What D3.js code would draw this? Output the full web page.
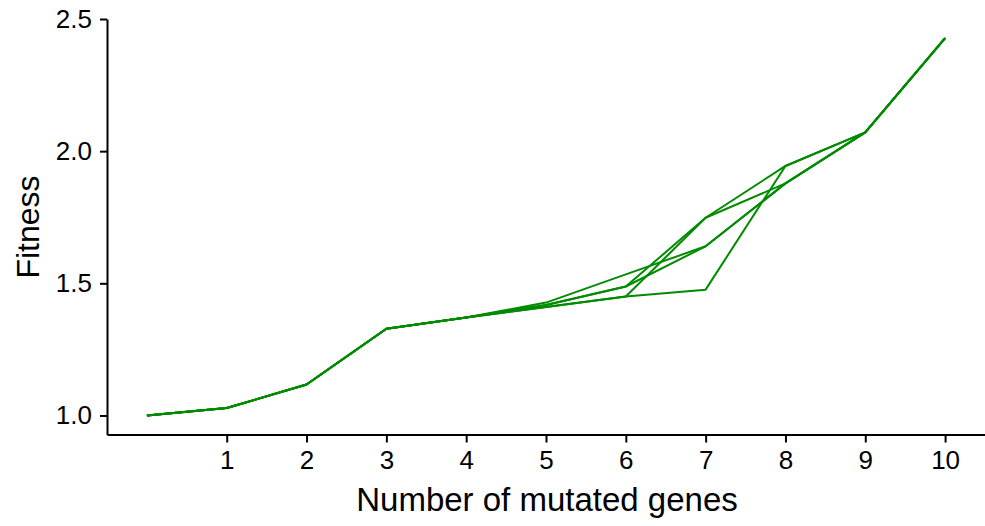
<!DOCTYPE html>
<html>
<head>
<meta charset="utf-8">
<script src="https://cdn.jsdelivr.net/npm/d3@7"></script>
<style>
  html, body { margin: 0; padding: 0; background: #fff; }
  svg { display: block; }
  text { font-family: "Liberation Sans", Arial, sans-serif; fill: #000; }
</style>
</head>
<body>
<svg id="chart" width="985" height="526"></svg>
<script>
// Number of mutated genes (x positions)
const genes = [0, 1, 2, 3, 4, 5, 6, 7, 8, 9, 10];
// Fitness along each mutational path
const path1 = [1.0, 1.028, 1.117, 1.328, 1.371, 1.427, 1.534, 1.640, 1.878, 2.071, 2.428];
const path2 = [1.0, 1.028, 1.117, 1.328, 1.371, 1.418, 1.488, 1.640, 1.878, 2.071, 2.428];
const path3 = [1.0, 1.028, 1.117, 1.328, 1.371, 1.418, 1.488, 1.748, 1.944, 2.071, 2.428];
const path4 = [1.0, 1.028, 1.117, 1.328, 1.371, 1.410, 1.450, 1.748, 1.878, 2.071, 2.428];
const path5 = [1.0, 1.028, 1.117, 1.328, 1.371, 1.410, 1.450, 1.476, 1.944, 2.071, 2.428];
const paths = [path1, path2, path3, path4, path5];
const xTicks = [1, 2, 3, 4, 5, 6, 7, 8, 9, 10];
const yTicks = [1.0, 1.5, 2.0, 2.5];

const svg = d3.select("#chart");
const x = d3.scaleLinear().domain([-0.5, 10.5]).range([107, 985]);
const y = d3.scaleLinear().domain([0.928, 2.5]).range([434.5, 19]);

const line = d3.line()
  .x((d, i) => x(genes[i]))
  .y(d => y(d));

svg.append("g")
  .selectAll("path")
  .data(paths)
  .join("path")
  .attr("d", line)
  .attr("fill", "none")
  .attr("stroke", "#008B00")
  .attr("stroke-width", 2)
  .attr("stroke-linejoin", "round");

const xAxis = svg.append("g")
  .attr("transform", "translate(0,434.5)")
  .call(d3.axisBottom(x).tickValues(xTicks).tickFormat(d3.format("d")).tickSize(8).tickSizeOuter(0).tickPadding(8));
const yAxis = svg.append("g")
  .attr("transform", "translate(107,0)")
  .call(d3.axisLeft(y).tickValues(yTicks).tickFormat(d3.format(".1f")).tickSize(7).tickSizeOuter(0).tickPadding(8));

[xAxis, yAxis].forEach(g => {
  g.select(".domain").attr("stroke", "#000").attr("stroke-width", 2);
  g.selectAll(".tick line").attr("stroke", "#000").attr("stroke-width", 2);
  g.selectAll(".tick text").attr("font-size", 26).attr("font-family", "Liberation Sans, Arial, sans-serif").attr("fill", "#000");
});

svg.append("text")
  .attr("x", 547)
  .attr("y", 511)
  .attr("text-anchor", "middle")
  .attr("font-size", 33)
  .text("Number of mutated genes");

svg.append("text")
  .attr("transform", "translate(39,227) rotate(-90)")
  .attr("text-anchor", "middle")
  .attr("font-size", 32)
  .text("Fitness");
</script>
</body>
</html>
